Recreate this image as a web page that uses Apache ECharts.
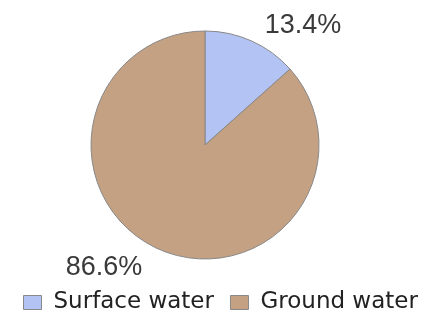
<!DOCTYPE html>
<html>
<head>
<meta charset="utf-8">
<script src="https://cdn.jsdelivr.net/npm/echarts@6/dist/echarts.min.js"></script>
<style>html,body{margin:0;padding:0;background:#fff;}#c{width:437px;height:320px;}</style>
</head>
<body>
<div id="c"></div>
<script>
const categories = ['Surface water', 'Ground water'];
const values = [13.4, 86.6];
const colors = ['#b3c3f3', '#c4a183'];

const labelShift = [[-6, -6], [3, 9]];

const chart = echarts.init(document.getElementById('c'), null, {renderer: 'canvas'});
chart.setOption({
  animation: false,
  textStyle: {fontFamily: 'Liberation Sans, Arial, sans-serif'},
  legend: {
    top: 286,
    left: 18,
    itemWidth: 18,
    itemHeight: 14,
    itemGap: 16,
    icon: 'rect',
    textStyle: {fontSize: 23, color: '#222', fontFamily: 'DejaVu Sans', padding: [0, 0, 0, 7]},
    data: categories.map((c, i) => ({name: c, itemStyle: {color: colors[i], borderColor: '#888', borderWidth: 1}}))
  },
  series: [{
    type: 'pie',
    center: [205, 145],
    radius: 114,
    startAngle: 90,
    clockwise: true,
    data: categories.map((c, i) => ({name: c, value: values[i], itemStyle: {color: colors[i]}})),
    itemStyle: {borderColor: '#888', borderWidth: 1},
    label: {
      show: true,
      position: 'outside',
      formatter: p => p.value.toFixed(1) + '%',
      fontSize: 27,
      color: '#3a3a3a'
    },
    labelLine: {show: false, length: 10, length2: 10},
    labelLayout: p => ({dx: labelShift[p.dataIndex][0], dy: labelShift[p.dataIndex][1]})
  }]
});
</script>
</body>
</html>
